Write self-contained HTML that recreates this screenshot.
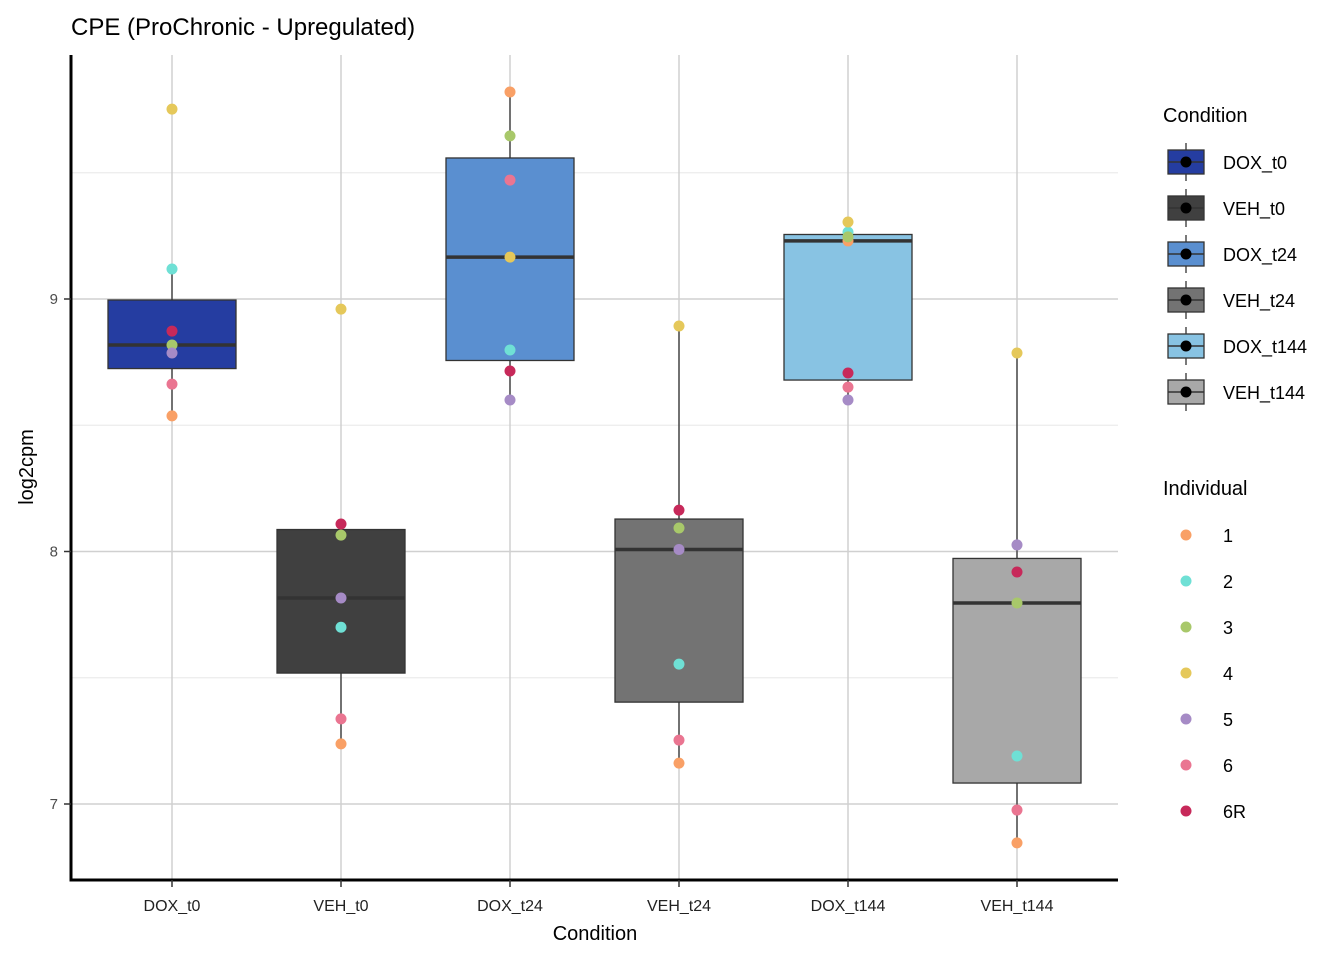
<!DOCTYPE html>
<html><head><meta charset="utf-8"><style>
html,body{margin:0;padding:0;background:#fff;width:1344px;height:960px;overflow:hidden;font-family:"Liberation Sans",Arial,sans-serif}
svg{display:block}
svg text{font-family:"Liberation Sans",Arial,sans-serif}
</style></head><body>
<svg id="c" width="1344" height="960" xmlns="http://www.w3.org/2000/svg" style="position:absolute;left:0;top:0"></svg>
<script>
const categories=["DOX_t0","VEH_t0","DOX_t24","VEH_t24","DOX_t144","VEH_t144"];
const individuals=["1","2","3","4","5","6","6R"];
const valDOX_t0=[8.537,9.119,8.818,9.752,8.786,8.663,8.873];
const valVEH_t0=[7.238,7.70,8.065,8.96,7.816,7.337,8.109];
const valDOX_t24=[9.82,8.798,9.646,9.166,8.60,9.471,8.715];
const valVEH_t24=[7.162,7.554,8.093,8.893,8.008,7.253,8.164];
const valDOX_t144=[9.23,9.265,9.246,9.305,8.60,8.651,8.707];
const valVEH_t144=[6.846,7.19,7.796,8.786,8.026,6.976,7.919];
const yTicks=[7,8,9];
const yMinor=[7.5,8.5,9.5];
const values=[valDOX_t0,valVEH_t0,valDOX_t24,valVEH_t24,valDOX_t144,valVEH_t144];
const fills=["#253da1","#404040","#5a8fd0","#737373","#88c3e3","#a8a8a8"];
const indColors=["#f9a066","#6fe0d5","#a8c86a","#e5c85a","#a68bc6","#ea7591","#c7295a"];
const svg=document.getElementById('c');
const NS="http://www.w3.org/2000/svg";
const y=v=>299+(9-v)*252.5;
const x=i=>172+i*169;
function el(t,a,p){const e=document.createElementNS(NS,t);for(const k in a)e.setAttribute(k,a[k]);(p||svg).appendChild(e);return e;}
function q(s,p){const h=(s.length-1)*p,l=Math.floor(h);return s[l]+(h-l)*((s[l+1]??s[l])-s[l]);}
yMinor.forEach(v=>{const l=el('line',{x1:71,x2:1118,y1:y(v),y2:y(v),stroke:'#ebebeb','stroke-width':1.2});

});
yTicks.forEach(v=>{const l=el('line',{x1:71,x2:1118,y1:y(v),y2:y(v),stroke:'#d0d0d0','stroke-width':1.5});

});
categories.forEach((c,i)=>{const l=el('line',{x1:x(i),x2:x(i),y1:55,y2:880,stroke:'#d0d0d0','stroke-width':1.5});

});
categories.forEach((c,i)=>{
 const s=[...values[i]].sort((a,b)=>a-b);
 const q1=q(s,.25),md=q(s,.5),q3=q(s,.75),iqr=q3-q1;
 const lo=Math.min(...s.filter(v=>v>=q1-1.5*iqr)),hi=Math.max(...s.filter(v=>v<=q3+1.5*iqr));
 const g=el('g',{});
 
 
 el('line',{x1:x(i),x2:x(i),y1:y(hi),y2:y(q3),stroke:'#333','stroke-width':1.3},g);
 el('line',{x1:x(i),x2:x(i),y1:y(q1),y2:y(lo),stroke:'#333','stroke-width':1.3},g);
 el('rect',{x:x(i)-64,y:y(q3),width:128,height:y(q1)-y(q3),fill:fills[i],stroke:'#333','stroke-width':1.3},g);
 el('line',{x1:x(i)-64,x2:x(i)+64,y1:y(md),y2:y(md),stroke:'#333','stroke-width':3.5},g);
});
categories.forEach((c,i)=>{values[i].forEach((v,j)=>{
 const p=el('circle',{cx:x(i),cy:y(v),r:5.5,fill:indColors[j]});
 
 
});});
el('line',{x1:71,x2:71,y1:55,y2:881.5,stroke:'#000','stroke-width':3});
el('line',{x1:69.5,x2:1118,y1:880,y2:880,stroke:'#000','stroke-width':3});
yTicks.forEach(v=>{el('line',{x1:64,x2:71,y1:y(v),y2:y(v),stroke:'#333','stroke-width':1.5});
 const t=el('text',{x:58,y:y(v)+5,'text-anchor':'end','font-size':15,fill:'#4d4d4d'});t.textContent=v;
 
 });
categories.forEach((c,i)=>{el('line',{x1:x(i),x2:x(i),y1:880,y2:887,stroke:'#333','stroke-width':1.5});
 const t=el('text',{x:x(i),y:911,'text-anchor':'middle','font-size':16,fill:'#222'});t.textContent=c;
 
 });
</script>
<svg width="1344" height="960" xmlns="http://www.w3.org/2000/svg" style="position:absolute;left:0;top:0;pointer-events:none">
<text x="71" y="35" font-size="24" fill="#000">CPE (ProChronic - Upregulated)</text>
<text x="595" y="940" font-size="20" text-anchor="middle" fill="#000">Condition</text>
<text transform="translate(33,467) rotate(-90)" font-size="20" text-anchor="middle" fill="#000">log2cpm</text>
<g>
<text x="1163" y="122" font-size="20">Condition</text>
<g id="cl"></g>
</g>
<g>
<text x="1163" y="495" font-size="20">Individual</text>
<g id="il"></g>
</g>
</svg>
<script>
(function(){
const cats=["DOX_t0","VEH_t0","DOX_t24","VEH_t24","DOX_t144","VEH_t144"];
const f=["#253da1","#404040","#5a8fd0","#737373","#88c3e3","#a8a8a8"];
const NS="http://www.w3.org/2000/svg";
const cl=document.getElementById('cl');
cats.forEach((c,i)=>{const yy=162+i*46;
 const g=document.createElementNS(NS,'g');
 
 
 g.innerHTML=`<line x1="1186" x2="1186" y1="${yy-19}" y2="${yy+19}" stroke="#333" stroke-width="1.3"/><rect x="1168" y="${yy-12}" width="36" height="24" fill="${f[i]}" stroke="#333" stroke-width="1.3"/><line x1="1168" x2="1204" y1="${yy}" y2="${yy}" stroke="#333" stroke-width="1.5"/><circle cx="1186" cy="${yy}" r="5.5" fill="#000"/><text x="1223" y="${yy+7}" font-size="18">${c}</text>`;
 cl.appendChild(g);});
const ind=["1","2","3","4","5","6","6R"];
const ic=["#f9a066","#6fe0d5","#a8c86a","#e5c85a","#a68bc6","#ea7591","#c7295a"];
const il=document.getElementById('il');
ind.forEach((c,i)=>{const yy=535+i*46;
 const g=document.createElementNS(NS,'g');
 
 
 g.innerHTML=`<circle cx="1186" cy="${yy}" r="5.5" fill="${ic[i]}"/><text x="1223" y="${yy+7}" font-size="18">${c}</text>`;
 il.appendChild(g);});
})();
</script>
</body></html>
